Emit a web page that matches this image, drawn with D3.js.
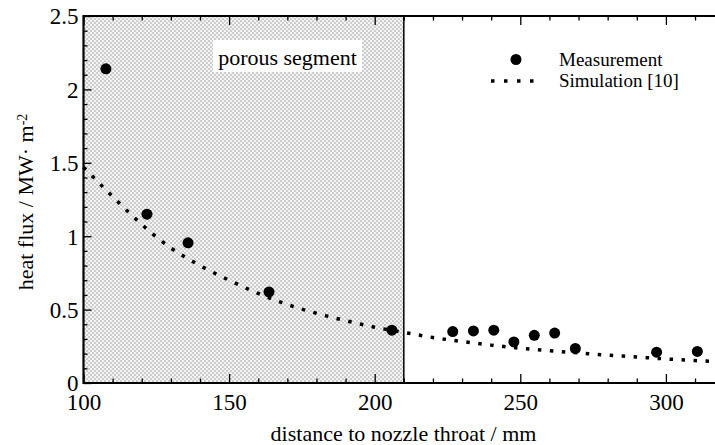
<!DOCTYPE html>
<html>
<head>
<meta charset="utf-8">
<script src="https://cdn.jsdelivr.net/npm/d3@7"></script>
<style>
  body { margin: 0; background: #fff; }
  text { font-family: "Liberation Serif", "Times New Roman", serif; fill: #000; }
</style>
</head>
<body>
<script>
const width = 715;
const height = 445;
const margin = {left: 83.5, top: 16, bottom: 62};

// measured heat flux
const measX = [107.7, 121.8, 135.9, 163.7, 205.9, 226.8, 233.9, 240.9, 247.8, 254.8, 261.8, 268.9, 296.8, 310.8];
const measY = [2.14, 1.15, 0.955, 0.62, 0.36, 0.35, 0.355, 0.36, 0.28, 0.325, 0.34, 0.235, 0.21, 0.215];

// simulation [10]
const simX = [100, 110, 120, 130, 140, 150, 160, 170, 180, 190, 200, 210, 220, 230, 240, 250, 260, 270, 280, 290, 300, 310, 320];
const simY = [1.47, 1.27, 1.08, 0.92, 0.80, 0.70, 0.61, 0.535, 0.475, 0.425, 0.38, 0.345, 0.31, 0.283, 0.258, 0.237, 0.22, 0.205, 0.19, 0.177, 0.164, 0.153, 0.143];

const xTicks = [100, 150, 200, 250, 300];
const yTicks = [0, 0.5, 1, 1.5, 2, 2.5];
const porous = [100, 210];

const x = d3.scaleLinear().domain([100, 320]).range([margin.left, margin.left + 220 * 2.912]);
const y = d3.scaleLinear().domain([0, 2.5]).range([height - margin.bottom, margin.top]);

const svg = d3.select('body').append('svg')
    .attr('width', width)
    .attr('height', height);

// checkered fill for the porous part
const pat = svg.append('defs').append('pattern')
    .attr('id', 'hatch')
    .attr('patternUnits', 'userSpaceOnUse')
    .attr('width', 4)
    .attr('height', 4);
pat.append('rect').attr('width', 4).attr('height', 4).attr('fill', '#f3f3f3');
pat.append('rect').attr('x', 0).attr('y', 0).attr('width', 2).attr('height', 2).attr('fill', '#cdcdcd');
pat.append('rect').attr('x', 2).attr('y', 2).attr('width', 2).attr('height', 2).attr('fill', '#cdcdcd');

svg.append('rect')
    .attr('x', x(porous[0]))
    .attr('y', y(2.5))
    .attr('width', x(porous[1]) - x(porous[0]))
    .attr('height', y(0) - y(2.5))
    .attr('fill', 'url(#hatch)');

svg.append('line')
    .attr('x1', x(porous[1])).attr('x2', x(porous[1]))
    .attr('y1', y(2.5)).attr('y2', y(0))
    .attr('stroke', '#000')
    .attr('stroke-width', 1.5);

// label box
svg.append('rect')
    .attr('x', 213).attr('y', 40)
    .attr('width', 149).attr('height', 32)
    .attr('fill', '#fff');
svg.append('text')
    .text('porous segment')
    .attr('x', 287.5)
    .attr('y', 65)
    .attr('text-anchor', 'middle')
    .style('font-size', '22px');

// axes
function styleAxis(g) {
    g.select('.domain').remove();
    g.selectAll('.tick line').attr('stroke', '#000').attr('stroke-width', 1.3);
    g.selectAll('.tick text').style('font-size', '23px').style('font-family', '"Liberation Serif", serif');
}

const minorX = d3.range(100, 321, 10).filter(d => d % 50 !== 0);
const minorY = d3.range(0, 26, 1).map(d => d / 10).filter(d => Math.round(d * 10) % 5 !== 0);

svg.append('g')
    .attr('transform', `translate(0, ${y(0)})`)
    .call(d3.axisBottom(x).tickValues(xTicks).tickSize(-9).tickPadding(11).tickFormat(d3.format('d')))
    .call(styleAxis);
svg.append('g')
    .attr('transform', `translate(0, ${y(0)})`)
    .call(d3.axisBottom(x).tickValues(minorX).tickSize(-4.5).tickFormat(''))
    .call(styleAxis);
svg.append('g')
    .attr('transform', `translate(0, ${y(2.5)})`)
    .call(d3.axisTop(x).tickValues(xTicks).tickSize(-9).tickFormat(''))
    .call(styleAxis);
svg.append('g')
    .attr('transform', `translate(0, ${y(2.5)})`)
    .call(d3.axisTop(x).tickValues(minorX).tickSize(-4.5).tickFormat(''))
    .call(styleAxis);

svg.append('g')
    .attr('transform', `translate(${x(100)}, 0)`)
    .call(d3.axisLeft(y).tickValues(yTicks).tickSize(-8).tickPadding(5).tickFormat(d => d))
    .call(styleAxis)
    .selectAll('.tick text').attr('dy', '0.34em');
svg.append('g')
    .attr('transform', `translate(${x(100)}, 0)`)
    .call(d3.axisLeft(y).tickValues(minorY).tickSize(-4).tickFormat(''))
    .call(styleAxis);

// frame lines
svg.append('line')
    .attr('x1', x(100)).attr('x2', width)
    .attr('y1', y(0)).attr('y2', y(0))
    .attr('stroke', '#000').attr('stroke-width', 2.2);
svg.append('line')
    .attr('x1', x(100)).attr('x2', width)
    .attr('y1', y(2.5)).attr('y2', y(2.5))
    .attr('stroke', '#000').attr('stroke-width', 2.2);
svg.append('line')
    .attr('x1', x(100)).attr('x2', x(100))
    .attr('y1', y(2.5) - 1.1).attr('y2', y(0) + 1.1)
    .attr('stroke', '#000').attr('stroke-width', 2.2);

// simulation line
const simData = simX.map((d, i) => [d, simY[i]]);
svg.append('path')
    .datum(simData)
    .attr('d', d3.line().x(d => x(d[0])).y(d => y(d[1])).curve(d3.curveMonotoneX))
    .attr('fill', 'none')
    .attr('stroke', '#000')
    .attr('stroke-width', 3.5)
    .attr('stroke-dasharray', '3.5 8.5');

// measurement points
svg.selectAll('circle.meas')
    .data(measX)
    .enter()
    .append('circle')
    .attr('class', 'meas')
    .attr('cx', d => x(d))
    .attr('cy', (d, i) => y(measY[i]))
    .attr('r', 5.5)
    .attr('fill', '#000');

// legend
svg.append('circle')
    .attr('cx', 516).attr('cy', 59.5).attr('r', 5.5).attr('fill', '#000');
svg.append('text')
    .text('Measurement')
    .attr('x', 559).attr('y', 66)
    .style('font-size', '19px');
svg.append('line')
    .attr('x1', 491).attr('x2', 536)
    .attr('y1', 81).attr('y2', 81)
    .attr('stroke', '#000')
    .attr('stroke-width', 3.5)
    .attr('stroke-dasharray', '3.5 9.5');
svg.append('text')
    .text('Simulation [10]')
    .attr('x', 559).attr('y', 87)
    .style('font-size', '19px');

// axis titles
svg.append('text')
    .text('distance to nozzle throat / mm')
    .attr('x', 403.5)
    .attr('y', 441)
    .attr('text-anchor', 'middle')
    .style('font-size', '22px');

const yl = svg.append('text')
    .attr('transform', 'translate(33, 202) rotate(-90)')
    .attr('text-anchor', 'middle')
    .style('font-size', '22px');
yl.append('tspan').text('heat flux / MW\u00b7 m');
yl.append('tspan').text('-2').attr('dy', '-0.45em').style('font-size', '14px');
</script>
</body>
</html>
